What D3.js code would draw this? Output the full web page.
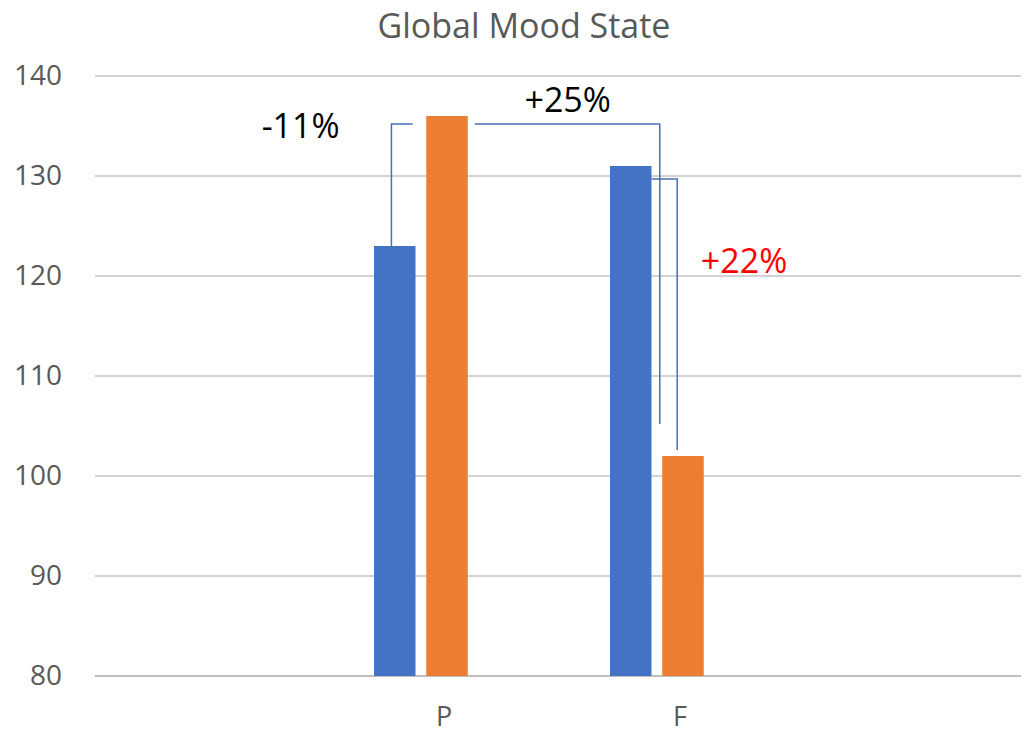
<!DOCTYPE html>
<html>
<head>
<meta charset="utf-8">
<script src="https://cdn.jsdelivr.net/npm/d3@7"></script>
<style>
  body { margin: 0; background: #fff; }
  text { font-family: "Open Sans", "Noto Sans", sans-serif; }
</style>
</head>
<body>
<svg id="chart"></svg>
<script>
// data
const categories = ["", "P", "F", " "];
const seriesNames = ["Series1", "Series2", "Series3"];
const seriesColors = ["#4472C4", "#ED7D31", "#A5A5A5"];
const series1 = [null, 123, 131, null];
const series2 = [null, 136, 102, null];
const series3 = [null, null, null, null];   // empty third series, only takes up room
const yTicks = [80, 90, 100, 110, 120, 130, 140];

// connectors drawn by hand in the original: [category, series index, fraction of bar width, value]
const connectors = [
  [["P", 0, 0.42, 122.6], ["P", 0, 0.42, 135.2], ["P", 0, 0.93, 135.2]],
  [["P", 1, 1.17, 135.2], ["F", 0, 1.2, 135.2], ["F", 0, 1.2, 105.2]],
  [["F", 0, 1.0, 129.7], ["F", 1, 0.36, 129.7], ["F", 1, 0.36, 102.6]]
];
const notes = [
  { text: "-11%", cat: "P", s: 0, frac: -0.83, value: 133.8, color: "#000", anchor: "end" },
  { text: "+25%", cat: "F", s: 0, frac: -1.02, value: 136.4, color: "#000", anchor: "middle" },
  { text: "+22%", cat: "F", s: 1, frac: 0.93, value: 120.3, color: "#FF0000", anchor: "start" }
];

const width = 1024;
const height = 736;
const margin = { left: 95, right: 3, top: 76, bottom: 60 };

const svg = d3.select("svg#chart").attr("width", width).attr("height", height);

const table = categories.map((c, i) => ({
  cat: c,
  values: [series1[i], series2[i], series3[i]]
}));

const x = d3.scaleBand()
  .domain(categories)
  .range([93, 1037]);

const groupWidth = 146;
const xSub = d3.scaleBand()
  .domain(d3.range(seriesNames.length))
  .range([(x.bandwidth() - groupWidth) / 2, (x.bandwidth() + groupWidth) / 2])
  .paddingInner(0.206);

const y = d3.scaleLinear()
  .domain([80, 140])
  .range([height - margin.bottom, margin.top]);

// gridlines
svg.append("g").selectAll("line").data(yTicks).enter().append("line")
  .attr("x1", margin.left)
  .attr("x2", width - margin.right)
  .attr("y1", d => y(d))
  .attr("y2", d => y(d))
  .attr("stroke", d => d === 80 ? "#bfbfbf" : "#c4c4c4")
  .attr("stroke-width", d => d === 80 ? 2 : 1.5);

// y axis labels
const yAxis = svg.append("g")
  .attr("transform", "translate(62,0)")
  .call(d3.axisLeft(y).tickValues(yTicks).tickSize(0).tickPadding(0));
yAxis.select(".domain").remove();
yAxis.selectAll("text")
  .attr("font-size", 28)
  .attr("fill", "#595959")
  .attr("font-family", "Open Sans");

// x axis labels
const xAxis = svg.append("g")
  .attr("transform", "translate(-3," + (height - margin.bottom) + ")")
  .call(d3.axisBottom(x).tickSize(0).tickPadding(31));
xAxis.select(".domain").remove();
xAxis.selectAll("text")
  .attr("font-size", 27)
  .attr("fill", "#595959")
  .attr("font-family", "Open Sans");

// bars
const groups = svg.append("g").selectAll("g").data(table).enter().append("g")
  .attr("transform", d => "translate(" + x(d.cat) + ",0)");

groups.selectAll("rect")
  .data(d => d.values.map((v, i) => ({ i: i, v: v })).filter(e => e.v !== null))
  .enter().append("rect")
  .attr("x", d => xSub(d.i))
  .attr("width", xSub.bandwidth())
  .attr("y", d => y(d.v))
  .attr("height", d => y(80) - y(d.v))
  .attr("fill", d => seriesColors[d.i]);

// connectors
const px = p => x(p[0]) + xSub(p[1]) + p[2] * xSub.bandwidth();
const line = d3.line().x(px).y(p => y(p[3]));

svg.append("g").selectAll("path").data(connectors).enter().append("path")
  .attr("d", line)
  .attr("fill", "none")
  .attr("stroke", "#4A6FB5")
  .attr("stroke-width", 1.5);

// annotation texts
svg.append("g").selectAll("text").data(notes).enter().append("text")
  .attr("x", d => x(d.cat) + xSub(d.s) + d.frac * xSub.bandwidth())
  .attr("y", d => y(d.value))
  .attr("text-anchor", d => d.anchor)
  .attr("font-size", 34)
  .attr("fill", d => d.color)
  .text(d => d.text);

// title
svg.append("text")
  .attr("x", 524)
  .attr("y", 38)
  .attr("text-anchor", "middle")
  .attr("font-size", 34)
  .attr("fill", "#595959")
  .text("Global Mood State");
</script>
</body>
</html>
